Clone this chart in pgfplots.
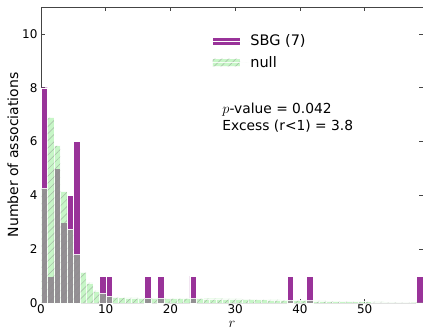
\documentclass[border=0pt]{standalone}
\usepackage{fontspec}
\setmainfont{DejaVu Sans}
\usepackage{pgfplots}
\pgfplotsset{compat=1.18}
\usetikzlibrary{patterns.meta}
\definecolor{sbg}{HTML}{993399}
\definecolor{lgreen}{RGB}{144,238,144}
\definecolor{axgray}{HTML}{444444}
\pgfplotstableread{
x y
0.5 8
1.5 1
2.5 5
3.5 3
4.5 4
5.5 6
9.5 1
10.5 1
16.5 1
18.5 1
23.5 1
38.5 1
41.5 1
58.5 1
}\sbgdata
\pgfplotstableread{
x y
0.5 4.25
1.5 6.9
2.5 5.85
3.5 4.15
4.5 2.75
5.5 1.8
6.5 1.15
7.5 0.75
8.5 0.45
9.5 0.35
10.5 0.25
11.5 0.22
12.5 0.2
13.5 0.19
14.5 0.19
15.5 0.18
16.5 0.18
17.5 0.18
18.5 0.18
19.5 0.17
20.5 0.17
21.5 0.17
22.5 0.17
23.5 0.17
24.5 0.17
25.5 0.16
26.5 0.16
27.5 0.16
28.5 0.15
29.5 0.15
30.5 0.15
31.5 0.14
32.5 0.14
33.5 0.13
34.5 0.13
35.5 0.12
36.5 0.12
37.5 0.11
38.5 0.11
39.5 0.1
40.5 0.1
41.5 0.09
42.5 0.08
43.5 0.08
44.5 0.07
45.5 0.07
46.5 0.06
47.5 0.06
48.5 0.05
49.5 0.05
50.5 0.05
51.5 0.04
52.5 0.04
53.5 0.03
54.5 0.03
55.5 0.02
56.5 0.02
57.5 0.01
58.5 0.01
}\nulldata
\begin{document}
\begin{tikzpicture}
\begin{axis}[
  scale only axis,
  width=382pt, height=296pt,
  xmin=0, xmax=59, ymin=0, ymax=11,
  xtick={0,10,20,30,40,50},
  ytick={0,2,4,6,8,10},
  tick align=inside,
  major tick length=4pt,
  axis line style={axgray, line width=0.8pt},
  every tick/.style={axgray, line width=0.6pt},
  tick label style={font=\fontsize{12}{14}\selectfont},
  xticklabel style={inner sep=1pt, yshift=-0.8pt},
  /pgf/number format/assume math mode=true,
  xlabel={$r$},
  ylabel={Number of associations},
  xlabel style={font=\fontsize{15.5}{17}\selectfont, inner sep=0pt,
    at={(axis description cs:0.5,0)}, anchor=base, yshift=-24pt},
  ylabel style={font=\fontsize{14}{16}\selectfont, yshift=-3pt},
  legend style={at={(0.447,0.91)}, anchor=north west, draw=none, fill=none,
    font=\fontsize{14.5}{16}\selectfont, row sep=7pt, inner sep=0pt,
    nodes={inner sep=1pt}},
  legend cell align=left,
  legend image code/.code={\path[#1] (0pt,-4pt) rectangle (28pt,4pt); \path (0pt,0pt) -- (37pt,0pt);},
  clip=true,
]
\addplot[ybar, bar width=1, bar shift=0pt, fill=sbg, draw=white, line width=0.4pt]
  table[x=x, y=y] {\sbgdata};
\addlegendentry{SBG (7)}
\addplot[ybar, bar width=1, bar shift=0pt, fill=lgreen, fill opacity=0.5,
  draw=white, draw opacity=0.6, line width=0.4pt,
  postaction={pattern={Lines[angle=45, distance=5pt, line width=0.5pt]}, pattern color=gray!90}]
  table[x=x, y=y] {\nulldata};
\addlegendentry{null}
\node[anchor=west, inner sep=0pt, font=\fontsize{13.8}{16}\selectfont] at (axis cs:28,7.17) {$p$-value = 0.042};
\node[anchor=west, inner sep=0pt, font=\fontsize{13.8}{16}\selectfont] at (axis cs:28,6.58) {Excess (r<1) = 3.8};
\coordinate (sw) at (rel axis cs:0,0);
\coordinate (ne) at (rel axis cs:1,1);
\end{axis}
\pgfresetboundingbox
\path ([shift={(-41pt,-27pt)}]sw) rectangle ([shift={(0pt,7pt)}]ne);
\end{tikzpicture}
\end{document}
